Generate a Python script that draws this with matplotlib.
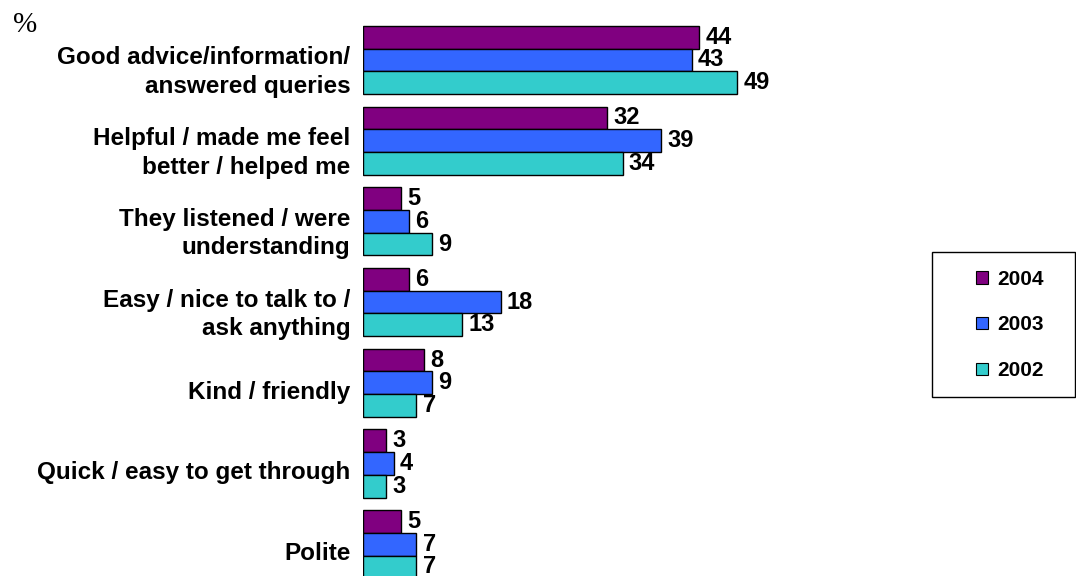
import numpy as np
import matplotlib
matplotlib.use("Agg")
import matplotlib.pyplot as plt
from matplotlib.patches import Patch, Rectangle

# Reasons given, one group of bars per reason
categories = [
    "Good advice/information/\nanswered queries",
    "Helpful / made me feel\nbetter / helped me",
    "They listened / were\nunderstanding",
    "Easy / nice to talk to /\nask anything",
    "Kind / friendly",
    "Quick / easy to get through",
    "Polite",
]
years = ["2004", "2003", "2002"]
values_2004 = [44, 32, 5, 6, 8, 3, 5]
values_2003 = [43, 39, 6, 18, 9, 4, 7]
values_2002 = [49, 34, 9, 13, 7, 3, 7]

colours = ["#800080", "#3366FF", "#33CCCC"]

plt.rcParams["font.family"] = ["Liberation Sans", "DejaVu Sans"]
plt.rcParams["font.weight"] = "bold"

W, H = 1076, 576
fig = plt.figure(figsize=(W / 100, H / 100), dpi=100)

# axes start where the bars start, run the full height
left_px, right_px = 363, 920
px_per_unit = 7.64
ax = fig.add_axes([left_px / W, 0, (right_px - left_px) / W, 1])
ax.set_xlim(0, (right_px - left_px) / px_per_unit)

pitch = 80.7          # px between group centres
first_centre = 60.0   # px from the top
ax.set_ylim((H - first_centre) / pitch, -first_centre / pitch)

bar_h = 22.7 / pitch
pos = np.arange(len(categories))
series = [values_2004, values_2003, values_2002]
for k, (vals, col) in enumerate(zip(series, colours)):
    y = pos + (k - 1) * bar_h
    ax.barh(y, vals, height=bar_h, color=col, edgecolor="black", linewidth=1.0)
    for yy, v in zip(y, vals):
        ax.text(v + 0.8, yy, str(v), va="center", ha="left",
                fontsize=17, fontweight="bold")

ax.set_yticks(pos + 7 / pitch)
ax.set_yticklabels(categories, fontsize=17.5, fontweight="bold", linespacing=1.3)
ax.tick_params(axis="y", length=0, pad=9)
ax.set_xticks([])
for s in ax.spines.values():
    s.set_visible(False)

fig.text(25 / W, 1 - 25 / H, "%", family="Liberation Serif", fontweight="normal",
         fontsize=21, va="center", ha="center")

# legend box
fig.patches.append(Rectangle((932 / W, 1 - 397 / H), (1075 - 932) / W, (397 - 252) / H,
                             transform=fig.transFigure, facecolor="white",
                             edgecolor="black", linewidth=1.0))
handles = [Patch(facecolor=c, edgecolor="black", linewidth=0.8) for c in colours]
fig.legend(handles, years, loc="center", bbox_to_anchor=(1010 / W, 1 - 325 / H),
           frameon=False, prop={"weight": "bold", "size": 15},
           handlelength=0.55, handleheight=0.55, handletextpad=0.45, labelspacing=1.28)

fig.savefig("out.png", dpi=100)
